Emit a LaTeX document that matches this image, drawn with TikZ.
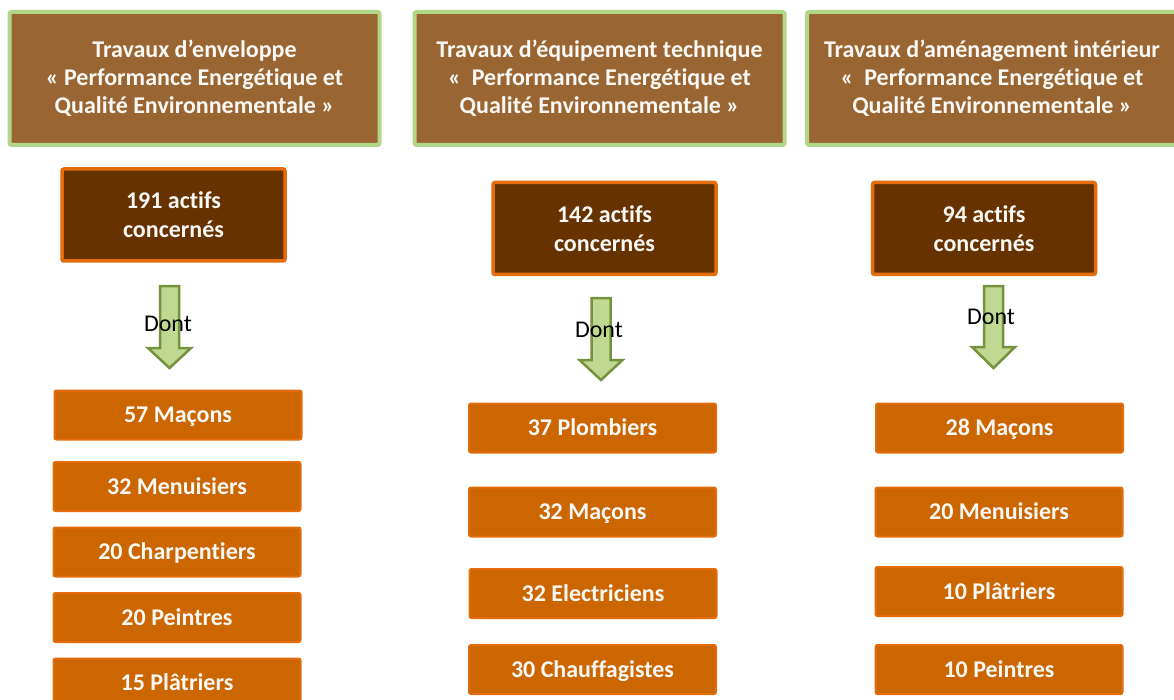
\documentclass[tikz,border=0pt]{standalone}
\usepackage{fontspec}
\setmainfont{Carlito}[Ligatures=NoCommon]
\definecolor{hdrfill}{RGB}{153,102,51}
\definecolor{hdrline}{RGB}{178,214,135}
\definecolor{darkfill}{RGB}{102,51,0}
\definecolor{orgline}{RGB}{228,108,10}
\definecolor{orgfill}{RGB}{204,102,0}
\definecolor{arrfill}{RGB}{192,216,145}
\definecolor{arrline}{RGB}{118,146,60}
\definecolor{txtw}{RGB}{250,248,244}
\tikzset{
  hdrbox/.style={draw=hdrline, line width=4pt, fill=hdrfill, rounded corners=2pt,
    minimum width=370pt, minimum height=133pt, inner sep=0pt,
    text=txtw, align=center, font=\fontsize{24}{28}\selectfont\bfseries},
  darkbox/.style={draw=orgline, line width=3.5pt, fill=darkfill, rounded corners=2pt,
    minimum width=223pt, minimum height=92pt, inner sep=0pt,
    text=txtw, align=center, font=\fontsize{24}{29}\selectfont\bfseries},
  itembox/.style={draw=orgline, line width=2pt, fill=orgfill, rounded corners=2pt,
    minimum width=247pt, minimum height=49pt, inner sep=0pt,
    text height=20pt, text depth=4.6pt,
    text=txtw, align=center, font=\fontsize{24}{26}\selectfont\bfseries},
  blockarrow/.style={draw=arrline, line width=2.5pt, fill=arrfill, line join=miter},
  dontlabel/.style={text=black, font=\fontsize{24}{26}\selectfont, inner sep=0pt}
}
\newcommand\myblockarrow[4]{% cx, top, headstart, tip
  \path[blockarrow] (#1-9.5,#2+1.2) -- (#1+9.5,#2+1.2) -- (#1+9.5,#3) -- (#1+21.5,#3)
    -- (#1,#4-2) -- (#1-21.5,#3) -- (#1-9.5,#3) -- cycle;}
\begin{document}
\begin{tikzpicture}[x=1pt,y=-1pt]
\useasboundingbox (0,0) rectangle (1174,700);
\clip (0,0) rectangle (1174,700);
% headers
\node[hdrbox] (h1) at (194.5,78.5) {Travaux d’enveloppe\\« Performance Energétique et\\Qualité Environnementale »};
\node[hdrbox] (h2) at (599.5,78.5) {Travaux d’équipement technique\\«~~Performance Energétique et\\Qualité Environnementale »};
\node[hdrbox] (h3) at (992,78.5) {Travaux d’aménagement intérieur\\«~~Performance Energétique et\\Qualité Environnementale »};
% totals
\node[darkbox] (t1) at (173.5,215) {191 actifs\\concernés};
\node[darkbox] (t2) at (604.5,228.5) {142 actifs\\concernés};
\node[darkbox] (t3) at (984,228.5) {94 actifs\\concernés};
% arrows
\myblockarrow{169.5}{285}{348}{370}
\myblockarrow{601}{297}{360}{382}
\myblockarrow{993.5}{285}{347}{370}
\node[dontlabel] (d1) at (168,324) {Dont};
\node[dontlabel] (d2) at (599,330) {Dont};
\node[dontlabel] (d3) at (991,317) {Dont};
% column 1
\node[itembox] (a1) at (178,415) {57 Maçons};
\node[itembox] (a2) at (177,486.5) {32 Menuisiers};
\node[itembox] (a3) at (177,552) {20 Charpentiers};
\node[itembox] (a4) at (177,617.5) {20 Peintres};
\node[itembox] (a5) at (177,683) {15 Plâtriers};
% column 2
\node[itembox] (b1) at (592.5,428) {37 Plombiers};
\node[itembox] (b2) at (592.5,512) {32 Maçons};
\node[itembox] (b3) at (593,593.5) {32 Electriciens};
\node[itembox] (b4) at (592.5,669.5) {30 Chauffagistes};
% column 3
\node[itembox] (c1) at (999.5,428) {28 Maçons};
\node[itembox] (c2) at (999,512) {20 Menuisiers};
\node[itembox] (c3) at (999,591.5) {10 Plâtriers};
\node[itembox] (c4) at (999,669.5) {10 Peintres};
\end{tikzpicture}
\end{document}
